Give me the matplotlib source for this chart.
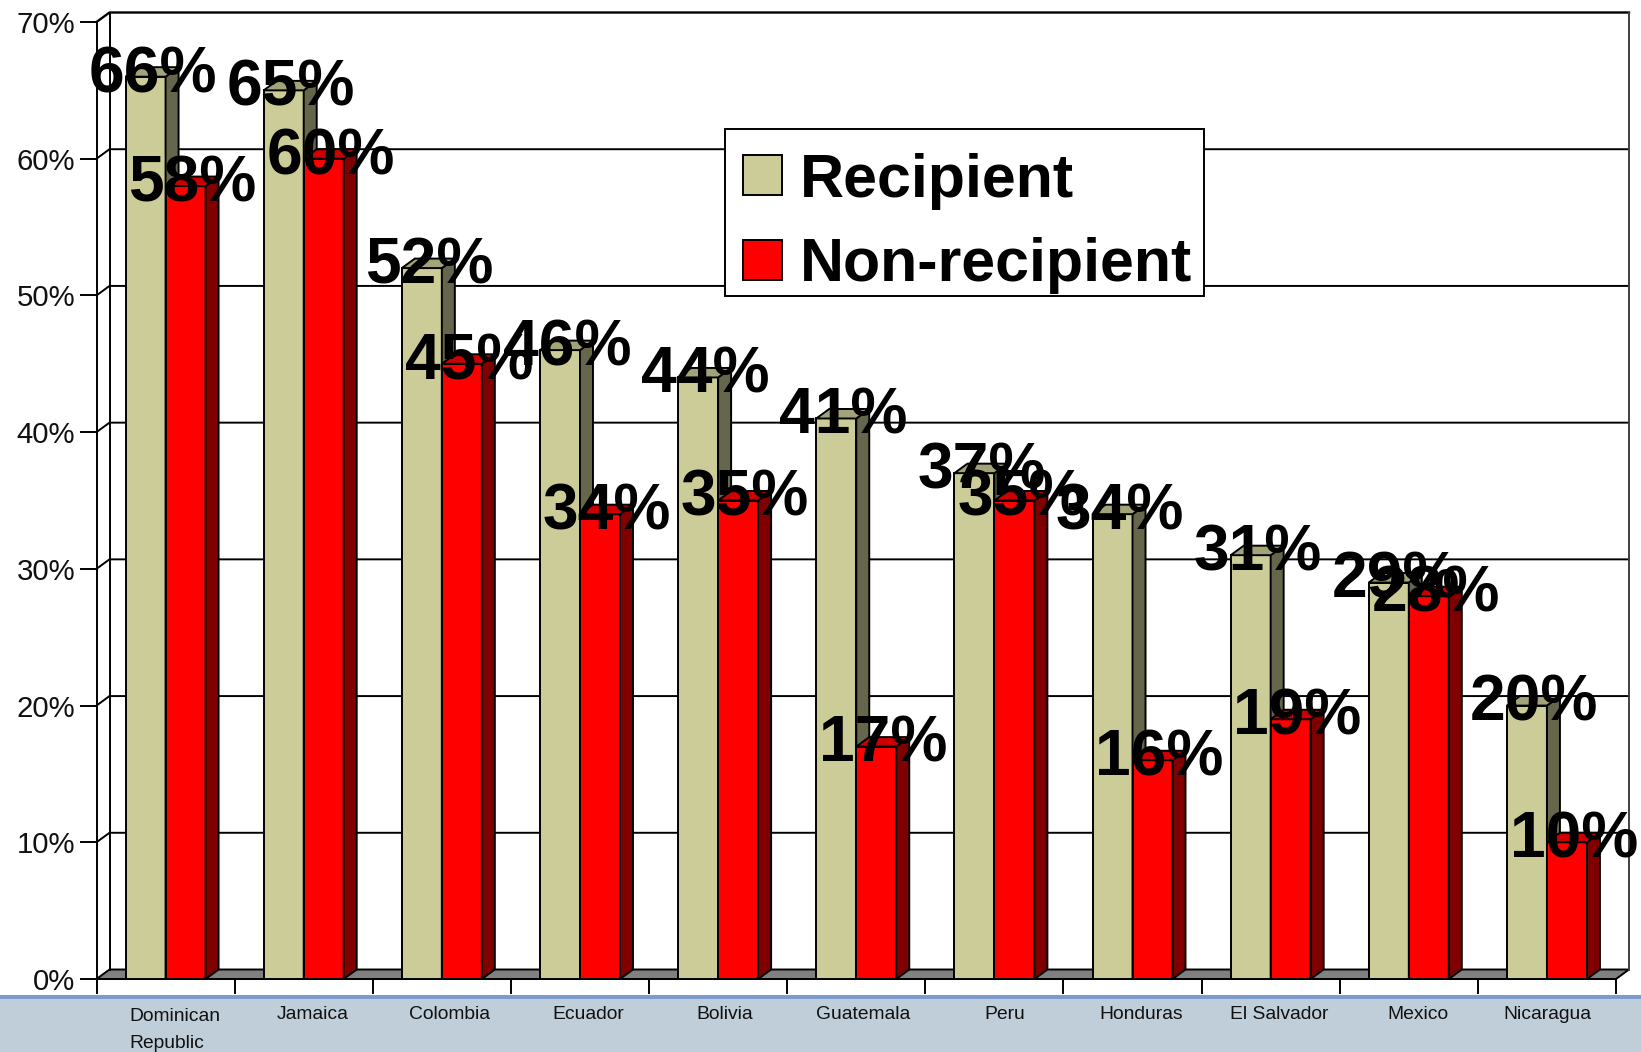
"""Recipient vs non-recipient shares by country, Excel-style pseudo-3D columns."""
import matplotlib

matplotlib.use("Agg")
import matplotlib.pyplot as plt  # noqa: E402
from matplotlib.patches import Polygon, Rectangle, Patch  # noqa: E402

COUNTRIES = ["Dominican\nRepublic", "Jamaica", "Colombia", "Ecuador", "Bolivia", "Guatemala",
             "Peru", "Honduras", "El Salvador", "Mexico", "Nicaragua"]
RECIPIENT = [66, 65, 52, 46, 44, 41, 37, 34, 31, 29, 20]
NON_RECIPIENT = [58, 60, 45, 34, 35, 17, 35, 16, 19, 28, 10]
Y_TICKS = [0, 10, 20, 30, 40, 50, 60, 70]

W, H = 1641, 1052
FONT = "Liberation Sans"
# front plane of the chart in image pixels
LEFT, RIGHT, TOP, BOTTOM = 96.5, 1616, 22, 979
PX_X = (RIGHT - LEFT) / len(COUNTRIES)
PX_Y = (BOTTOM - TOP) / 70
DX = 13 / PX_X       # depth of the box, data units
DY = 9.5 / PX_Y
BAR_W = 40 / PX_X
LW = 1.4
# labels are not quite centred in the original (px)
LABEL_NUDGE = [9, 8.5, 8, 8, 7, 7, 10, 9, 9, 9, 0]

FRONT = {"rec": "#CCCC99", "non": "#FF0000"}
SIDE = {"rec": "#66664C", "non": "#800000"}
LID = {"rec": "#A3A37A", "non": "#CC0000"}


def bar3d(ax, x, v, key):
    ax.bar(x, v, BAR_W, align="edge", color=FRONT[key], edgecolor="k", linewidth=LW, zorder=3)
    side = [(x + BAR_W, 0), (x + BAR_W + DX, DY), (x + BAR_W + DX, v + DY), (x + BAR_W, v)]
    lid = [(x, v), (x + DX, v + DY), (x + BAR_W + DX, v + DY), (x + BAR_W, v)]
    ax.add_patch(Polygon(side, fc=SIDE[key], ec="k", lw=LW, zorder=3, clip_on=False))
    ax.add_patch(Polygon(lid, fc=LID[key], ec="k", lw=LW, zorder=3, clip_on=False))


def main():
    plt.rcParams["font.family"] = FONT
    fig = plt.figure(figsize=(W / 100, H / 100), dpi=100, facecolor="white")
    fig.patches.append(Rectangle((0, 0), 1, (H - 996) / H, transform=fig.transFigure,
                                 fc="#C0CEDA", ec="none", zorder=-2))
    fig.patches.append(Rectangle((0, (H - 999) / H), 1, 4 / H, transform=fig.transFigure,
                                 fc="#7C9CCF", ec="none", zorder=-2))
    ax = fig.add_axes([LEFT / W, (H - BOTTOM) / H, (RIGHT - LEFT) / W, (BOTTOM - TOP) / H])
    n = len(COUNTRIES)
    ax.set_xlim(0, n)
    ax.set_ylim(0, 70)
    ax.patch.set_visible(False)
    for s in ("top", "right"):
        ax.spines[s].set_visible(False)
    for s in ("left", "bottom"):
        ax.spines[s].set_linewidth(LW)

    ax.set_yticks(Y_TICKS)
    ax.set_yticklabels([f"{t}%" for t in Y_TICKS], fontsize=21.2, color="#111111")
    ax.tick_params(axis="y", length=11.9, width=LW, pad=3.6)
    ax.set_xticks(range(n + 1))
    ax.set_xticklabels([])
    ax.tick_params(axis="x", length=11, width=LW)

    # box: floor, back wall, gridlines
    ax.add_patch(Polygon([(0, 0), (DX, DY), (n + DX, DY), (n, 0)], fc="#808080", ec="k", lw=LW,
                         zorder=1, clip_on=False))
    for t in Y_TICKS[1:]:
        ax.plot([0, DX, n + DX], [t, t + DY, t + DY], color="k", lw=LW if t < 70 else 1.7,
                zorder=1, clip_on=False)
    ax.plot([DX, DX], [DY, 70 + DY], color="k", lw=LW, zorder=1, clip_on=False)
    ax.plot([n + DX, n + DX], [DY, 70 + DY], color="#404040", lw=LW, zorder=1, clip_on=False)

    labels = []
    for i in range(n):
        x0 = i + (1 - 2 * BAR_W) / 2
        bar3d(ax, x0, RECIPIENT[i], "rec")
        bar3d(ax, x0 + BAR_W, NON_RECIPIENT[i], "non")
        labels.append((x0 + BAR_W / 2, RECIPIENT[i]))
        labels.append((x0 + BAR_W * 1.5, NON_RECIPIENT[i]))
    for x, v in labels:
        ax.annotate(f"{v}%", (x, v + DY), xytext=(5, -17.9), textcoords="offset points",
                    ha="center", va="baseline", fontsize=46.2, fontweight="bold", color="k",
                    zorder=5, annotation_clip=False)

    for i, name in enumerate(COUNTRIES):
        # baseline alignment uses the last line, so push two-line names down one line
        off = -28.8 - 20.9 * name.count("\n")
        ax.annotate(name, (i + 0.5, 0), xytext=(LABEL_NUDGE[i] * 0.72, off),
                    textcoords="offset points", ha="center", va="baseline", ma="left",
                    fontsize=13.9, color="#111111", linespacing=1.8, annotation_clip=False)

    # frame sized by hand: the legend's own padding can't give the original's uneven margins
    ax.add_patch(Rectangle((724.5 / W, (H - 296) / H), (1204 - 724.5) / W, 167 / H,
                           transform=fig.transFigure, fc="white", ec="k", lw=LW, zorder=4,
                           clip_on=False))
    handles = [Patch(fc=FRONT["rec"], ec="k", lw=LW, label="Recipient"),
               Patch(fc=FRONT["non"], ec="k", lw=LW, label="Non-recipient")]
    leg = ax.legend(handles=handles, loc="upper left", frameon=False,
                    bbox_to_anchor=(724.5 / W, (H - 134.5) / H), bbox_transform=fig.transFigure,
                    borderaxespad=0, handlelength=0.64, handleheight=0.64, handletextpad=0.3,
                    labelspacing=0.45, borderpad=0.3,
                    prop={"family": FONT, "weight": "bold", "size": 43.8})
    leg.set_zorder(4.5)

    fig.savefig("out.png", dpi=100)
    plt.close(fig)


if __name__ == "__main__":
    main()
